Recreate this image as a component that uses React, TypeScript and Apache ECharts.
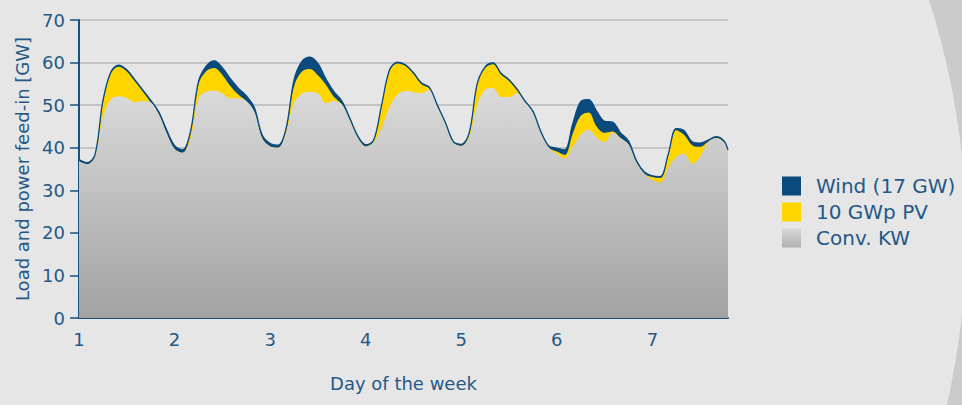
import React, { useEffect, useRef } from "react";
import * as echarts from "echarts";

// hours since start of day 1
const hours = [
  0, 2, 4, 6, 8, 10, 12, 14, 16, 18, 20, 22,
  24, 26, 28, 30, 32, 34, 36, 38, 40, 42, 44, 46,
  48, 50, 52, 54, 56, 58, 60, 62, 64, 66, 68, 70,
  72, 74, 76, 78, 80, 82, 84, 86, 88, 90, 92, 94,
  96, 98, 100, 102, 104, 106, 108, 110, 112, 114, 116, 118,
  120, 122, 124, 126, 128, 130, 132, 134, 136, 138, 140, 142,
  144, 146, 148, 150, 152, 154, 156, 158, 160, 162, 163,
];

// conventional power plants (GW)
const conv = [
  36.8, 36.1, 37.9, 47.1, 51.4, 52.1, 51.7, 50.7, 51.0, 50.7, 47.9, 43.4,
  39.7, 38.8, 42.0, 51.5, 53.2, 53.4, 52.8, 51.6, 51.6, 51.0, 48.5, 42.2,
  40.3, 40.0, 43.5, 50.5, 52.7, 53.1, 52.8, 50.5, 51.0, 50.2, 46.5, 42.4,
  40.3, 41.3, 44.7, 49.6, 52.5, 53.4, 53.1, 52.8, 53.6, 49.7, 45.7, 41.2,
  40.4, 42.5, 50.0, 53.6, 54.0, 51.9, 51.9, 52.8, 50.7, 48.3, 43.5, 40.0,
  38.6, 37.5, 40.2, 43.0, 44.3, 42.4, 41.3, 43.5, 42.3, 40.8, 36.5, 33.9,
  32.4, 31.8, 35.3, 37.9, 38.6, 36.2, 37.9, 41.3, 42.3, 41.3, 39.2,
];

// 10 GWp photovoltaics (GW)
const pv = [
  0, 0, 0, 3.5, 6.0, 6.9, 6.2, 4.9, 2.2, 0, 0, 0,
  0, 0, 1.3, 3.4, 4.8, 5.3, 4.3, 2.9, 0.9, 0, 0, 0,
  0, 0, 0.5, 3.9, 5.2, 5.4, 4.2, 4.3, 1.0, 0, 0, 0,
  0, 0.2, 5.0, 8.4, 7.3, 5.8, 4.2, 2.1, 0.3, 0, 0, 0,
  0, 0.7, 4.7, 5.1, 5.6, 5.3, 3.8, 0.7, 0, 0, 0, 0,
  0.5, 0.8, 3.1, 4.5, 4.0, 2.6, 2.2, 0.3, 0, 0, 0, 0,
  0.7, 1.1, 2.9, 6.2, 4.4, 4.4, 2.3, 0.1, 0, 0, 0,
];

// wind, 17 GW installed (GW)
const wind = [
  0.4, 0.4, 0.4, 0.4, 0.4, 0.4, 0.4, 0.4, 0.4, 0.5, 0.6, 0.8,
  0.8, 0.7, 0.5, 0.6, 1.2, 1.7, 1.7, 1.7, 1.5, 1.2, 1.0, 0.8,
  0.7, 0.6, 0.5, 1.5, 2.4, 2.8, 2.8, 1.4, 1.2, 0.8, 0.5, 0.4,
  0.4, 0.3, 0.3, 0.3, 0.3, 0.3, 0.3, 0.3, 0.3, 0.3, 0.3, 0.3,
  0.4, 0.3, 0.3, 0.3, 0.3, 0.3, 0.3, 0.3, 0.3, 0.3, 0.3, 0.4,
  0.8, 1.2, 2.3, 3.3, 3.0, 3.6, 2.7, 2.2, 1.2, 0.8, 0.5, 0.4,
  0.3, 0.3, 0.3, 0.4, 1.0, 0.8, 0.9, 0.4, 0.3, 0.3, 0.3,
];

const yTicks = [0, 10, 20, 30, 40, 50, 60, 70];
const dayLabels = ["1", "2", "3", "4", "5", "6", "7"];

const names = { wind: "Wind (17 GW)", pv: "10 GWp PV", conv: "Conv. KW" };

const BLUE = "#0b4a7c";
const YELLOW = "#ffd500";
const TEXT = "#245886";
const FONT = "DejaVu Sans";

export default function App() {
  const ref = useRef<HTMLDivElement>(null);
  useEffect(() => {
    document.body.style.margin = "0";
    if (!ref.current) return;
    const chart = echarts.init(ref.current, undefined, { renderer: "svg" });
    const grayGrad = new echarts.graphic.LinearGradient(0, 0, 0, 1, [
      { offset: 0, color: "#dadada" },
      { offset: 1, color: "#a2a2a2" },
    ]);
    const legendGrad = new echarts.graphic.LinearGradient(0, 0, 0, 1, [
      { offset: 0, color: "#d8d8d8" },
      { offset: 1, color: "#b0b0b0" },
    ]);
    // layered (painted) cumulative levels: conv, conv+pv, conv+pv+wind
    const levelConv = hours.map((h, i) => [h, conv[i]]);
    const levelPv = hours.map((h, i) => [h, conv[i] + pv[i]]);
    const levelTotal = hours.map((h, i) => [h, conv[i] + pv[i] + wind[i]]);
    const SM = 0.35;
    chart.setOption({
      animation: false,
      backgroundColor: "#cbcbcb",
      textStyle: { fontFamily: FONT },
      graphic: [
        {
          type: "circle",
          z: -10,
          silent: true,
          shape: { cx: 202, cy: 235, r: 764 },
          style: { fill: "#e6e6e6" },
        },
      ],
      grid: { left: 79, top: 20, right: 234, bottom: 87 },
      legend: {
        orient: "vertical",
        left: 777,
        top: 171,
        icon: "rect",
        itemWidth: 19,
        itemHeight: 19,
        itemGap: 6,
        textStyle: { fontSize: 20, color: TEXT, fontFamily: FONT, padding: [0, 0, 0, 10] },
        data: [
          { name: names.wind, itemStyle: { color: BLUE, borderWidth: 0 } },
          { name: names.pv, itemStyle: { color: YELLOW, borderWidth: 0 } },
          { name: names.conv, itemStyle: { color: legendGrad, borderWidth: 0 } },
        ],
      },
      xAxis: {
        type: "value",
        min: 0,
        max: 163,
        interval: 24,
        name: "Day of the week",
        nameLocation: "middle",
        nameGap: 56,
        nameTextStyle: { fontSize: 18, color: TEXT, fontFamily: FONT },
        axisLine: { show: true, lineStyle: { color: "#1d4f7c", width: 2 } },
        axisTick: { show: false },
        splitLine: { show: false },
        axisLabel: {
          margin: 12,
          fontSize: 18,
          color: TEXT,
          fontFamily: FONT,
          showMaxLabel: false,
          formatter: (v: number) => (v % 24 === 0 ? dayLabels[v / 24] ?? "" : ""),
        },
      },
      yAxis: {
        type: "value",
        min: 0,
        max: 70,
        interval: 10,
        name: "Load and power feed-in [GW]",
        nameLocation: "middle",
        nameRotate: 90,
        nameGap: 48,
        nameTextStyle: { fontSize: 18, color: TEXT, fontFamily: FONT },
        axisLine: { show: true, lineStyle: { color: "#1d4f7c", width: 2 } },
        axisTick: { show: true, length: 9, lineStyle: { color: "#1d4f7c", width: 1.5 } },
        splitLine: { show: true, lineStyle: { color: "#b9b9b9", width: 1.5 } },
        axisLabel: {
          margin: 14,
          fontSize: 18,
          color: TEXT,
          fontFamily: FONT,
          formatter: (v: number) => (yTicks.includes(v) ? String(v) : ""),
        },
      },
      series: [
        {
          name: names.wind,
          type: "line",
          data: levelTotal,
          symbol: "none",
          smooth: SM,
          lineStyle: { width: 0 },
          itemStyle: { color: BLUE },
          areaStyle: { color: BLUE, opacity: 1 },
          z: 2,
        },
        {
          name: names.pv,
          type: "line",
          data: levelPv,
          symbol: "none",
          smooth: SM,
          lineStyle: { width: 0 },
          itemStyle: { color: YELLOW },
          areaStyle: { color: YELLOW, opacity: 1 },
          z: 3,
        },
        {
          name: names.conv,
          type: "line",
          data: levelConv,
          symbol: "none",
          smooth: SM,
          lineStyle: { width: 0 },
          itemStyle: { color: "#c0c0c0" },
          areaStyle: { color: grayGrad, opacity: 1 },
          z: 4,
        },
        {
          name: "outline",
          type: "line",
          data: levelTotal,
          symbol: "none",
          smooth: SM,
          silent: true,
          lineStyle: { width: 1.3, color: BLUE },
          z: 5,
        },
      ],
    });
    return () => chart.dispose();
  }, []);
  return <div ref={ref} style={{ width: 962, height: 405 }} />;
}
